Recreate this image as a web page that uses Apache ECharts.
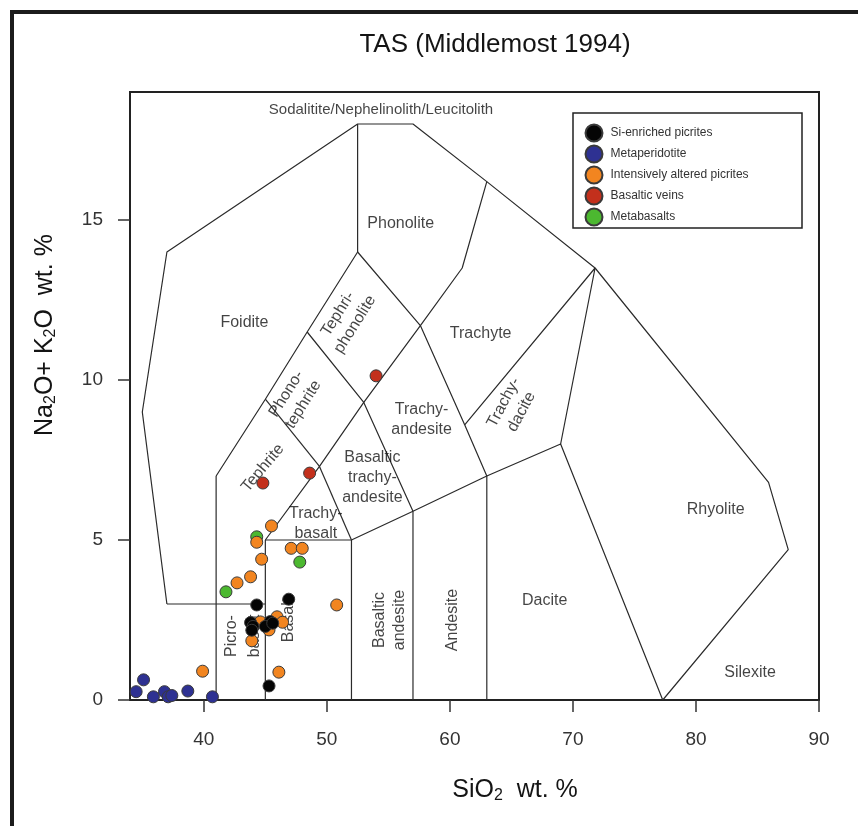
<!DOCTYPE html>
<html>
<head>
<meta charset="utf-8">
<title>TAS (Middlemost 1994)</title>
<script src="https://cdn.jsdelivr.net/npm/echarts@6/dist/echarts.min.js"></script>
<style>
  html, body { margin: 0; padding: 0; background: #ffffff; }
  #chart { width: 858px; height: 826px; }
</style>
</head>
<body>
<div id="chart"></div>
<script>
// ---- Sample data: [SiO2 wt.%, Na2O+K2O wt.%] ----
const siEnrichedPicrites = [
  [44.3, 2.97], [46.9, 3.15], [43.8, 2.42], [44.0, 2.30], [43.9, 2.18],
  [45.4, 2.45], [45.0, 2.30], [45.6, 2.40], [45.3, 0.44]
];
const metaperidotite = [
  [35.1, 0.63], [34.5, 0.26], [35.9, 0.10], [36.8, 0.26],
  [37.1, 0.10], [37.4, 0.14], [38.7, 0.28], [40.7, 0.10]
];
const alteredPicrites = [
  [45.5, 5.44], [44.3, 4.93], [47.1, 4.74], [48.0, 4.74], [44.7, 4.40],
  [43.8, 3.85], [42.7, 3.66], [50.8, 2.97], [45.95, 2.60], [46.4, 2.43],
  [44.6, 2.44], [45.3, 2.19], [43.9, 1.85], [39.9, 0.90], [46.1, 0.87]
];
const basalticVeins = [[44.8, 6.78], [48.6, 7.09], [54.0, 10.13]];
const metabasalts = [[41.8, 3.38], [47.8, 4.31], [44.3, 5.10]];

const seriesNames = [
  'Si-enriched picrites', 'Metaperidotite', 'Intensively altered picrites',
  'Basaltic veins', 'Metabasalts'
];
const seriesColors = ['#050505', '#2e3192', '#f28520', '#c3301c', '#4cb830'];

// ---- Classification field boundaries (Middlemost 1994) ----
const outerBoundary = [[37, 3], [35, 9], [37, 14], [52.5, 18], [57, 18], [63, 16.2],
  [71.8, 13.5], [85.9, 6.8], [87.5, 4.7], [77.3, 0]];
const foiditeBase = [[37, 3], [45, 3]];
const line41 = [[41, 0], [41, 7]];
const line45 = [[45, 0], [45, 5]];
const line52 = [[52, 0], [52, 5]];
const line57 = [[57, 0], [57, 5.9]];
const line63 = [[63, 0], [63, 7]];
const basaltTop = [[45, 5], [52, 5]];
const subalkalineTop = [[52, 5], [57, 5.9], [63, 7], [69, 8], [77.3, 0]];
const tephriteUpper = [[41, 7], [45, 9.4], [48.4, 11.5], [52.5, 14], [52.5, 18]];
const trachyBasaltUpper = [[45, 5], [49.4, 7.3], [53, 9.3], [57.6, 11.7], [61, 13.5], [63, 16.2]];
const trachyBasaltRight = [[49.4, 7.3], [52, 5]];
const phonotephriteLower = [[45, 9.4], [49.4, 7.3]];
const phonotephriteRight = [[48.4, 11.5], [53, 9.3], [57, 5.9]];
const tephriphonoliteRight = [[52.5, 14], [57.6, 11.7], [61.2, 8.6], [63, 7]];
const trachydaciteEdges = [[61.2, 8.6], [71.8, 13.5], [69, 8]];

const boundaries = [outerBoundary, foiditeBase, line41, line45, line52, line57, line63,
  basaltTop, subalkalineTop, tephriteUpper, trachyBasaltUpper, trachyBasaltRight,
  phonotephriteLower, phonotephriteRight, tephriphonoliteRight, trachydaciteEdges];

// ---- Field names: text, anchor [SiO2, alkali], rotation (deg) ----
const fieldNames = ['Sodalitite/Nephelinolith/Leucitolith', 'Phonolite', 'Foidite', 'Trachyte',
  'Tephri-\nphonolite', 'Phono-\ntephrite', 'Tephrite', 'Trachy-\nandesite',
  'Basaltic\ntrachy-\nandesite', 'Trachy-\nbasalt', 'Trachy-\ndacite', 'Rhyolite',
  'Picro-\nbasalt', 'Basalt', 'Basaltic\nandesite', 'Andesite', 'Dacite', 'Silexite'];
const fieldAnchors = [[54.4, 18.45], [56.0, 14.88], [43.3, 11.8], [62.5, 11.44],
  [51.6, 11.9], [47.4, 9.4], [44.8, 7.25], [57.7, 8.75],
  [53.7, 6.95], [49.1, 5.5], [65.1, 9.15], [81.6, 5.95],
  [43.2, 2.0], [46.9, 2.5], [55.1, 2.5], [60.2, 2.5], [67.7, 3.1], [84.4, 0.85]];
const fieldRotations = [0, 0, 0, 0, 58, 58, 50, 0, 0, 0, 62, 0, 90, 90, 90, 90, 0, 0];

const xTicks = [40, 50, 60, 70, 80, 90];
const yTicks = [0, 5, 10, 15];

const FONT = '"Liberation Sans", Arial, Helvetica, sans-serif';
const INK = '#141414';

const chart = echarts.init(document.getElementById('chart'), null, { renderer: 'canvas' });

const lineSeries = boundaries.map(pts => ({
  type: 'line',
  data: pts,
  symbol: 'none',
  silent: true,
  z: 2,
  lineStyle: { color: '#2b2b2b', width: 1.2 },
  tooltip: { show: false }
}));

const labelSeries = {
  type: 'scatter',
  silent: true,
  symbolSize: 0,
  z: 3,
  itemStyle: { color: INK },
  data: fieldNames.map((name, i) => ({
    value: fieldAnchors[i],
    label: {
      show: true,
      formatter: name,
      rotate: fieldRotations[i],
      position: 'inside',
      fontFamily: FONT,
      fontSize: i === 0 ? 15 : 16,
      color: INK,
      textBorderWidth: 0,
      lineHeight: i === 12 ? 23 : 20,
      align: 'center',
      verticalAlign: 'middle'
    }
  }))
};

const dataGroups = [siEnrichedPicrites, metaperidotite, alteredPicrites, basalticVeins, metabasalts];
const groupZ = [6, 5, 5, 7, 4];
const pointSeries = dataGroups.map((pts, i) => ({
  type: 'scatter',
  name: seriesNames[i],
  data: pts,
  symbol: 'circle',
  symbolSize: 12,
  z: groupZ[i],
  itemStyle: { color: seriesColors[i], borderColor: '#3a3a3a', borderWidth: 1, opacity: 1 }
}));

chart.setOption({
  animation: false,
  backgroundColor: '#ffffff',
  grid: {
    left: 130, top: 92, width: 689, height: 608,
    show: true, borderColor: '#222222', borderWidth: 2, backgroundColor: 'transparent'
  },
  xAxis: {
    type: 'value', min: 34, max: 90,
    axisLine: { show: true, lineStyle: { color: '#222222', width: 2 } },
    axisTick: { show: true, customValues: xTicks, length: 12, lineStyle: { color: '#333333', width: 1.5 } },
    axisLabel: { customValues: xTicks, margin: 30, fontSize: 19, fontFamily: FONT, color: '#333333' },
    splitLine: { show: false }
  },
  yAxis: {
    type: 'value', min: 0, max: 19,
    axisLine: { show: true, lineStyle: { color: '#222222', width: 2 } },
    axisTick: { show: true, customValues: yTicks, length: 12, lineStyle: { color: '#333333', width: 1.5 } },
    axisLabel: { customValues: yTicks, margin: 27, fontSize: 19, fontFamily: FONT, color: '#333333' },
    splitLine: { show: false }
  },
  legend: {
    data: seriesNames,
    orient: 'vertical',
    left: 584.5, top: 123.5,
    padding: 0,
    itemWidth: 17, itemHeight: 17, itemGap: 2,
    icon: 'circle',
    selectedMode: false,
    textStyle: { fontFamily: FONT, fontSize: 12, color: '#333333', padding: [0, 0, 0, 3] },
    z: 10
  },
  graphic: [
    // page frame
    { type: 'line', shape: { x1: 10, y1: 12, x2: 858, y2: 12 }, style: { stroke: '#1c1c1c', lineWidth: 4 } },
    { type: 'line', shape: { x1: 12, y1: 10, x2: 12, y2: 826 }, style: { stroke: '#1c1c1c', lineWidth: 4 } },
    // legend box
    { type: 'rect', z: 8, shape: { x: 573, y: 113, width: 229, height: 115 },
      style: { fill: '#ffffff', stroke: '#222222', lineWidth: 1.5 } },
    // title
    { type: 'text', x: 495, y: 45, z: 10,
      style: { text: 'TAS (Middlemost 1994)', font: '26px ' + FONT, fill: INK, align: 'center', verticalAlign: 'middle' } },
    // x axis title
    { type: 'text', x: 515, y: 790, z: 10,
      style: {
        text: '{m|SiO}{s|2}{m|  wt. %}', align: 'center', verticalAlign: 'middle',
        rich: {
          m: { fontSize: 25, fontFamily: FONT, fill: INK, color: INK, lineHeight: 28 },
          s: { fontSize: 16, fontFamily: FONT, fill: INK, color: INK, lineHeight: 14, verticalAlign: 'bottom' }
        }
      } },
    // y axis title
    { type: 'text', x: 45, y: 335, rotation: Math.PI / 2, z: 10,
      style: {
        text: '{m|Na}{s|2}{m|O+ K}{s|2}{m|O  wt. %}', align: 'center', verticalAlign: 'middle',
        rich: {
          m: { fontSize: 25, fontFamily: FONT, fill: INK, color: INK, lineHeight: 28 },
          s: { fontSize: 16, fontFamily: FONT, fill: INK, color: INK, lineHeight: 14, verticalAlign: 'bottom' }
        }
      } }
  ],
  series: [...lineSeries, labelSeries, ...pointSeries]
});
</script>
</body>
</html>
